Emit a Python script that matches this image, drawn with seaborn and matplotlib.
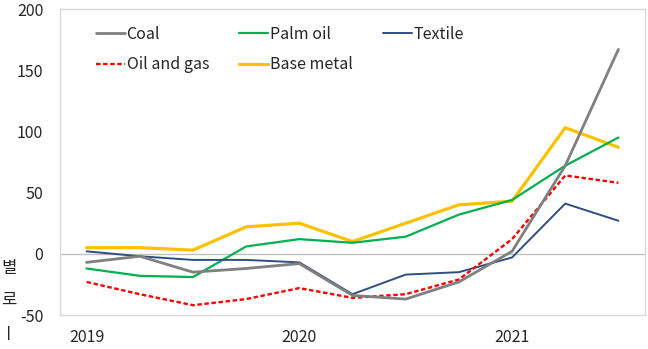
import numpy as np
import pandas as pd
import matplotlib
matplotlib.use("Agg")
import matplotlib.pyplot as plt
import seaborn as sns

quarters = ["2019Q1", "2019Q2", "2019Q3", "2019Q4",
            "2020Q1", "2020Q2", "2020Q3", "2020Q4",
            "2021Q1", "2021Q2", "2021Q3"]
coal = [-7, -2, -15, -12, -8, -34, -37, -23, 2, 72, 167]
palm_oil = [-12, -18, -19, 6, 12, 9, 14, 32, 44, 72, 95]
textile = [2, -2, -5, -5, -7, -33, -17, -15, -3, 41, 27]
oil_gas = [-23, -33, -42, -37, -28, -36, -33, -21, 12, 64, 58]
base_metal = [5, 5, 3, 22, 25, 10, 25, 40, 43, 103, 87]
x_tick_labels = ["2019", "2020", "2021"]
y_ticks = [-50, 0, 50, 100, 150, 200]

series = {
    "Coal": coal,
    "Palm oil": palm_oil,
    "Textile": textile,
    "Oil and gas": oil_gas,
    "Base metal": base_metal,
}
colors = {
    "Coal": "#808080",
    "Palm oil": "#00B050",
    "Textile": "#2F4F7F",
    "Oil and gas": "#FF0000",
    "Base metal": "#FFC000",
}
widths = {"Coal": 2.0, "Palm oil": 1.6, "Textile": 1.4, "Oil and gas": 1.7, "Base metal": 2.3}

rows = []
for name, vals in series.items():
    for i, v in enumerate(vals):
        rows.append({"series": name, "idx": i, "value": v})
df = pd.DataFrame(rows)

sns.set_theme(style="white")
plt.rcParams["font.family"] = ["Noto Sans CJK KR", "DejaVu Sans"]

fig = plt.figure(figsize=(6.48, 3.49), dpi=100)
ax = fig.add_axes([60 / 648, 34 / 349, 585 / 648, 306 / 349])

ax.axhline(0, color="#c0c0c0", lw=1.0, zorder=1)

draw_order = ["Base metal", "Palm oil", "Textile", "Oil and gas", "Coal"]
handles = {}
for name in draw_order:
    sub = df[df["series"] == name]
    sns.lineplot(data=sub, x="idx", y="value", ax=ax, color=colors[name],
                 lw=widths[name], label=name, legend=False, zorder=3)
    line = ax.get_lines()[-1]
    if name == "Oil and gas":
        line.set_dashes([1.9, 1.1])
    handles[name] = line

ax.set_xlim(-0.5, 10.5)
ax.set_ylim(-50, 200)
ax.set_xticks([0, 4, 8])
ax.set_xticklabels(x_tick_labels)
ax.set_yticks(y_ticks)
ax.set_yticklabels([str(t) for t in y_ticks])
ax.set_xlabel("")
ax.set_ylabel("")
ax.tick_params(axis="both", length=0, labelsize=11.5, colors="#262626")
ax.tick_params(axis="x", pad=10)
ax.tick_params(axis="y", pad=12)
for sp in ax.spines.values():
    sp.set_color("#d9d9d9")
    sp.set_linewidth(1.0)

order = ["Coal", "Oil and gas", "Palm oil", "Base metal", "Textile"]
leg = ax.legend([handles[n] for n in order], order, ncol=3, loc="upper left",
                bbox_to_anchor=(0.062, 0.945), frameon=False, fontsize=11.5,
                handlelength=1.8, handletextpad=0.1, columnspacing=1.9,
                labelspacing=0.85, borderpad=0, borderaxespad=0)
for t in leg.get_texts():
    t.set_color("#262626")

# text fragments at the left edge of the source image
for ch, yy in [("별", 268), ("로", 300), ("ㅣ", 334)]:
    fig.text(1 / 648, 1 - yy / 349, ch, fontsize=12, color="#262626",
             ha="left", va="center", rotation=0,
             family=["Noto Sans CJK KR", "DejaVu Sans"])

fig.savefig("out.png", dpi=100)
